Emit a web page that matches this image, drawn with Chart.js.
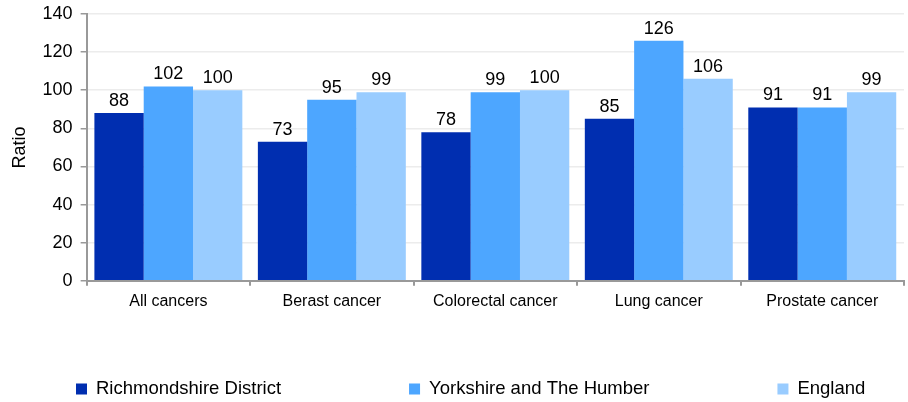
<!DOCTYPE html>
<html>
<head>
<meta charset="utf-8">
<script src="https://cdn.jsdelivr.net/npm/chart.js@4"></script>
<style>
  html, body { margin: 0; padding: 0; background: #fff; }
  #wrap { width: 908px; height: 402px; }
</style>
</head>
<body>
<div id="wrap"><canvas id="myChart" width="908" height="402"></canvas></div>
<script>
let cancerTypes = ["All cancers", "Berast cancer", "Colorectal cancer", "Lung cancer", "Prostate cancer"];
let richmondshire = [88, 73, 78, 85, 91];
let yorkshire = [102, 95, 99, 126, 91];
let england = [100, 99, 100, 106, 99];
let yTicks = [0, 20, 40, 60, 80, 100, 120, 140];

const FONT = "'Liberation Sans', Arial, sans-serif";

// value labels above each bar
const barLabels = {
  id: "barLabels",
  afterDatasetsDraw(chart) {
    const ctx = chart.ctx;
    ctx.save();
    ctx.font = "18px " + FONT;
    ctx.fillStyle = "#000";
    ctx.textAlign = "center";
    ctx.textBaseline = "alphabetic";
    chart.data.datasets.forEach((ds, i) => {
      chart.getDatasetMeta(i).data.forEach((bar, j) => {
        ctx.fillText(ds.data[j], bar.x, bar.y - 7);
      });
    });
    ctx.restore();
  }
};

// legend row along the bottom, one square marker per series
const bottomLegend = {
  id: "bottomLegend",
  afterDraw(chart) {
    const ctx = chart.ctx;
    const gap = 128;
    const box = 11;
    let x = 76;
    const y = 389;
    ctx.save();
    ctx.font = "18.5px " + FONT;
    ctx.textBaseline = "middle";
    ctx.textAlign = "left";
    chart.data.datasets.forEach(ds => {
      ctx.fillStyle = ds.backgroundColor;
      ctx.fillRect(x, y - box / 2, box, box);
      ctx.fillStyle = "#000";
      ctx.fillText(ds.label, x + box + 9, y);
      x += box + 9 + ctx.measureText(ds.label).width + gap;
    });
    ctx.restore();
  }
};

let ctx = document.getElementById("myChart").getContext("2d");
let myChart = new Chart(ctx, {
  type: "bar",
  data: {
    labels: cancerTypes,
    datasets: [
      { label: "Richmondshire District", data: richmondshire, backgroundColor: "#002EB0" },
      { label: "Yorkshire and The Humber", data: yorkshire, backgroundColor: "#4DA6FF" },
      { label: "England", data: england, backgroundColor: "#99CCFF" }
    ]
  },
  options: {
    responsive: false,
    animation: false,
    layout: { padding: { top: 0, right: 4, left: 0, bottom: 85 } },
    datasets: {
      bar: { categoryPercentage: 0.905, barPercentage: 1.0 }
    },
    plugins: {
      tooltip: { enabled: false },
      legend: { display: false }
    },
    scales: {
      x: {
        border: { color: "#999", width: 2 },
        grid: { offset: true, drawOnChartArea: false, tickLength: 5, color: "#999", lineWidth: 2 },
        ticks: {
          color: "#000",
          padding: 6,
          font: { family: FONT, size: 16 }
        }
      },
      y: {
        min: 0,
        max: 140,
        afterBuildTicks(axis) { axis.ticks = yTicks.map(v => ({ value: v })); },
        afterFit(axis) { axis.paddingTop = 14; },
        border: { color: "#999", width: 2 },
        grid: { color: "#ececec", lineWidth: 1.5, tickColor: "#999", tickLength: 6 },
        ticks: {
          color: "#000",
          padding: 8,
          font: { family: FONT, size: 18 }
        },
        title: {
          display: true,
          text: "Ratio",
          color: "#000",
          padding: { top: 9, bottom: 4 },
          font: { family: FONT, size: 18 }
        }
      }
    }
  },
  plugins: [barLabels, bottomLegend]
});
</script>
</body>
</html>
